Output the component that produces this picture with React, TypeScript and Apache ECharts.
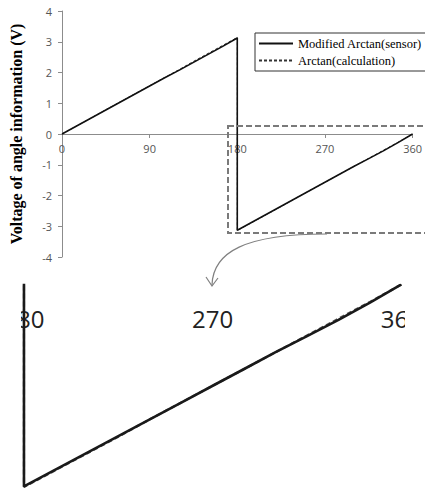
import React, { useEffect, useRef } from "react";
import * as echarts from "echarts";

const angles = [0, 15, 30, 45, 60, 75, 90, 105, 120, 135, 150, 165, 180, 180, 195, 210, 225, 240, 255, 270, 285, 300, 315, 330, 345, 360];
const sensorValues = [0, 0.26, 0.52, 0.78, 1.04, 1.3, 1.56, 1.82, 2.07, 2.33, 2.59, 2.85, 3.12, -3.13, -2.87, -2.61, -2.35, -2.09, -1.83, -1.57, -1.31, -1.05, -0.8, -0.55, -0.28, 0];
const calcValues = [0, 0.26, 0.52, 0.79, 1.05, 1.31, 1.57, 1.83, 2.09, 2.36, 2.62, 2.88, 3.14, -3.14, -2.88, -2.62, -2.36, -2.09, -1.83, -1.57, -1.31, -1.05, -0.79, -0.53, -0.27, 0];
const zoomTicks = [180, 270, 360];
const seriesNames = ["Modified Arctan(sensor)", "Arctan(calculation)"];
const yAxisTitle = "Voltage of angle information (V)";

export default function App() {
  const ref = useRef<HTMLDivElement>(null);
  useEffect(() => {
    const chart = echarts.init(ref.current!, null, { renderer: "svg" });
    const sensor = angles.map((a, i) => [a, sensorValues[i]]);
    const calc = angles.map((a, i) => [a, calcValues[i]]);
    chart.setOption({
      animation: false,
      grid: [
        { left: 53, top: 11, width: 366, height: 246 },
        { left: 0, top: 285, width: 425, height: 203 },
      ],
      legend: {
        data: seriesNames,
        orient: "vertical",
        left: 255,
        top: 33,
        width: 169,
        itemWidth: 34,
        itemHeight: 10,
        itemGap: 4,
        padding: [4, 6, 4, 3],
        borderColor: "#333",
        borderWidth: 1,
        backgroundColor: "#fff",
        itemStyle: { opacity: 0 },
        textStyle: { fontFamily: "Liberation Serif", fontSize: 12.5, color: "#000" },
      },
      xAxis: [
        {
          gridIndex: 0,
          type: "value",
          min: 0,
          max: 360,
          interval: 90,
          offset: -123,
          axisLine: { onZero: false, lineStyle: { color: "#8c8c8c", width: 1 } },
          axisTick: { show: true, length: 4, lineStyle: { color: "#8c8c8c" } },
          axisLabel: { margin: 9, fontSize: 11, fontFamily: "Open Sans", color: "#555" },
          splitLine: { show: false },
        },
        {
          gridIndex: 1,
          type: "value",
          position: "top",
          min: 168.57,
          max: 370.95,
          axisLine: { show: false, onZero: false },
          axisTick: { show: false },
          axisLabel: {
            inside: true,
            margin: 21,
            fontSize: 24,
            fontFamily: "Open Sans",
            color: "#222",
            customValues: zoomTicks,
          },
          splitLine: { show: false },
        },
      ],
      yAxis: [
        {
          gridIndex: 0,
          type: "value",
          min: -4,
          max: 4,
          interval: 1,
          axisLine: { show: true, lineStyle: { color: "#8c8c8c", width: 1 } },
          axisTick: { show: true, length: 4, lineStyle: { color: "#8c8c8c" } },
          axisLabel: { margin: 10, fontSize: 11, fontFamily: "Open Sans", color: "#555" },
          splitLine: { show: false },
          name: yAxisTitle,
          nameLocation: "middle",
          nameGap: 38,
          nameRotate: 90,
          nameTextStyle: { fontFamily: "Liberation Serif", fontWeight: "bold", fontSize: 16, color: "#000" },
        },
        {
          gridIndex: 1,
          type: "value",
          min: -3.155,
          max: -0.008,
          show: false,
          splitLine: { show: false },
        },
      ],
      series: [
        {
          name: seriesNames[1],
          type: "line",
          xAxisIndex: 0,
          yAxisIndex: 0,
          data: calc,
          showSymbol: false,
          symbol: "none",
          itemStyle: { color: "#333" },
          lineStyle: { color: "#333", width: 1, type: [3, 2] },
          z: 2,
        },
        {
          name: seriesNames[0],
          type: "line",
          xAxisIndex: 0,
          yAxisIndex: 0,
          data: sensor,
          showSymbol: false,
          symbol: "none",
          itemStyle: { color: "#111" },
          lineStyle: { color: "#111", width: 1.6 },
          z: 3,
        },
        {
          name: seriesNames[1],
          type: "line",
          xAxisIndex: 1,
          yAxisIndex: 1,
          data: calc,
          showSymbol: false,
          symbol: "none",
          itemStyle: { color: "#555" },
          lineStyle: { color: "#555", width: 2.2, type: [5, 3] },
          z: 4,
        },
        {
          name: seriesNames[0],
          type: "line",
          xAxisIndex: 1,
          yAxisIndex: 1,
          data: sensor,
          showSymbol: false,
          symbol: "none",
          itemStyle: { color: "#1a1a1a" },
          lineStyle: { color: "#1a1a1a", width: 2.6 },
          z: 5,
        },
      ],
      graphic: [
        { type: "rect", z: 1, shape: { x: 0, y: 296, width: 21, height: 44 }, style: { fill: "#fff" } },
        { type: "rect", z: 1, shape: { x: 405, y: 296, width: 20, height: 44 }, style: { fill: "#fff" } },
        {
          type: "rect",
          z: 10,
          shape: { x: 228, y: 126, width: 205, height: 107 },
          style: { fill: "none", stroke: "#7a7a7a", lineWidth: 2, lineDash: [6, 3] },
        },
        {
          type: "bezierCurve",
          z: 10,
          shape: { x1: 327, y1: 234, cpx1: 245, cpy1: 234, cpx2: 213, cpy2: 252, x2: 212, y2: 285 },
          style: { fill: "none", stroke: "#808080", lineWidth: 1.2 },
        },
        {
          type: "polyline",
          z: 10,
          shape: { points: [[206, 277], [212, 286], [218, 278]] },
          style: { fill: "none", stroke: "#808080", lineWidth: 1.2 },
        },
      ],
    });
    return () => chart.dispose();
  }, []);
  return <div ref={ref} style={{ width: 425, height: 488, position: "absolute", left: 0, top: 0 }} />;
}
